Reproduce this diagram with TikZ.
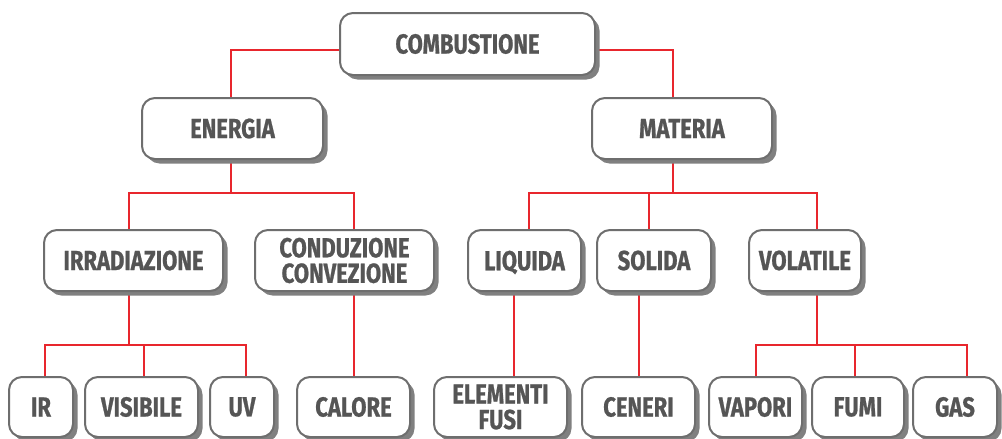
\documentclass[tikz,border=0pt]{standalone}
\usepackage{fontspec}
\setmainfont{Fira Sans}[FakeStretch=0.8, BoldFeatures={FakeBold=0.8}]
\usetikzlibrary{shadows,backgrounds}
\definecolor{txtgray}{HTML}{555555}
\definecolor{boxgray}{HTML}{6E6E6E}
\definecolor{shadowgray}{HTML}{808080}
\definecolor{linkred}{HTML}{E8262D}
\tikzset{
  box/.style={draw=boxgray, line width=2pt, rounded corners=13pt, fill=white,
    text=txtgray, font=\fontsize{27.5}{25.5}\selectfont\bfseries, align=center,
    inner sep=0pt, minimum height=61pt,
    drop shadow={shadow xshift=4.5pt, shadow yshift=-4.5pt, fill=shadowgray, opacity=1}},
  link/.style={draw=linkred, line width=2pt}
}
\begin{document}
\begin{tikzpicture}[x=1pt,y=-1pt]
\useasboundingbox (0,0) rectangle (1002,439);
% level 1
\node[box, minimum width=255pt, minimum height=62pt] (comb) at (467.5,44) {COMBUSTIONE};
% level 2
\node[box, minimum width=181pt] (energia) at (232.5,128.5) {ENERGIA};
\node[box, minimum width=180pt] (materia) at (682,128.5) {MATERIA};
% level 3
\node[box, minimum width=179pt] (irr) at (133.5,260.5) {IRRADIAZIONE};
\node[box, minimum width=179pt] (cond) at (344.5,260.5) {CONDUZIONE\\CONVEZIONE};
\node[box, minimum width=113pt, text depth=0pt] (liq) at (524.5,260.5) {LIQUIDA};
\node[box, minimum width=114pt] (sol) at (654,260.5) {SOLIDA};
\node[box, minimum width=112pt] (vol) at (805,260.5) {VOLATILE};
% level 4
\node[box, minimum width=64pt, minimum height=60pt] (ir) at (41,407) {IR};
\node[box, minimum width=113pt, minimum height=60pt] (vis) at (141.5,407) {VISIBILE};
\node[box, minimum width=64pt, minimum height=60pt] (uv) at (242,407) {UV};
\node[box, minimum width=113pt, minimum height=60pt] (cal) at (353.5,407) {CALORE};
\node[box, minimum width=133pt, minimum height=60pt] (elem) at (500.5,407) {ELEMENTI\\FUSI};
\node[box, minimum width=113pt, minimum height=60pt] (cen) at (638.5,407) {CENERI};
\node[box, minimum width=93pt, minimum height=60pt] (vap) at (755.5,407) {VAPORI};
\node[box, minimum width=92pt, minimum height=60pt] (fumi) at (858,407) {FUMI};
\node[box, minimum width=84pt, minimum height=60pt] (gas) at (955,407) {GAS};
% buses
\coordinate (bE) at (231,193);
\coordinate (bM) at (673,193);
\coordinate (bI) at (129,345);
\coordinate (bV) at (817,345);
\begin{scope}[on background layer]
\draw[link] ([yshift=-6pt]comb.west) -| ([xshift=-1.5pt]energia.north);
\draw[link] ([yshift=-6pt]comb.east) -| ([xshift=-9pt]materia.north);
\draw[link] ([xshift=-1.5pt]energia.south) -- (bE);
\draw[link] ([xshift=-4.5pt]irr.north) |- (bE) -| ([xshift=9.5pt]cond.north);
\draw[link] ([xshift=-9pt]materia.south) -- (bM);
\draw[link] ([xshift=4.5pt]liq.north) |- (bM) -| ([xshift=12pt]vol.north);
\draw[link] ([xshift=-5pt]sol.north) -- ([xshift=-5pt]sol.north |- bM);
\draw[link] ([xshift=-4.5pt]irr.south) -- (bI);
\draw[link] ([xshift=4pt]ir.north) |- (bI) -| ([xshift=4pt]uv.north);
\draw[link] ([xshift=2.5pt]vis.north) -- ([xshift=2.5pt]vis.north |- bI);
\draw[link] ([xshift=9.5pt]cond.south) -- ([xshift=0.5pt]cal.north);
\draw[link] ([xshift=-10.5pt]liq.south) -- ([xshift=13.5pt]elem.north);
\draw[link] ([xshift=-15pt]sol.south) -- ([xshift=0.5pt]cen.north);
\draw[link] ([xshift=12pt]vol.south) -- (bV);
\draw[link] ([xshift=0.5pt]vap.north) |- (bV) -| ([xshift=12pt]gas.north);
\draw[link] ([xshift=-3pt]fumi.north) -- ([xshift=-3pt]fumi.north |- bV);
\end{scope}
\end{tikzpicture}
\end{document}
